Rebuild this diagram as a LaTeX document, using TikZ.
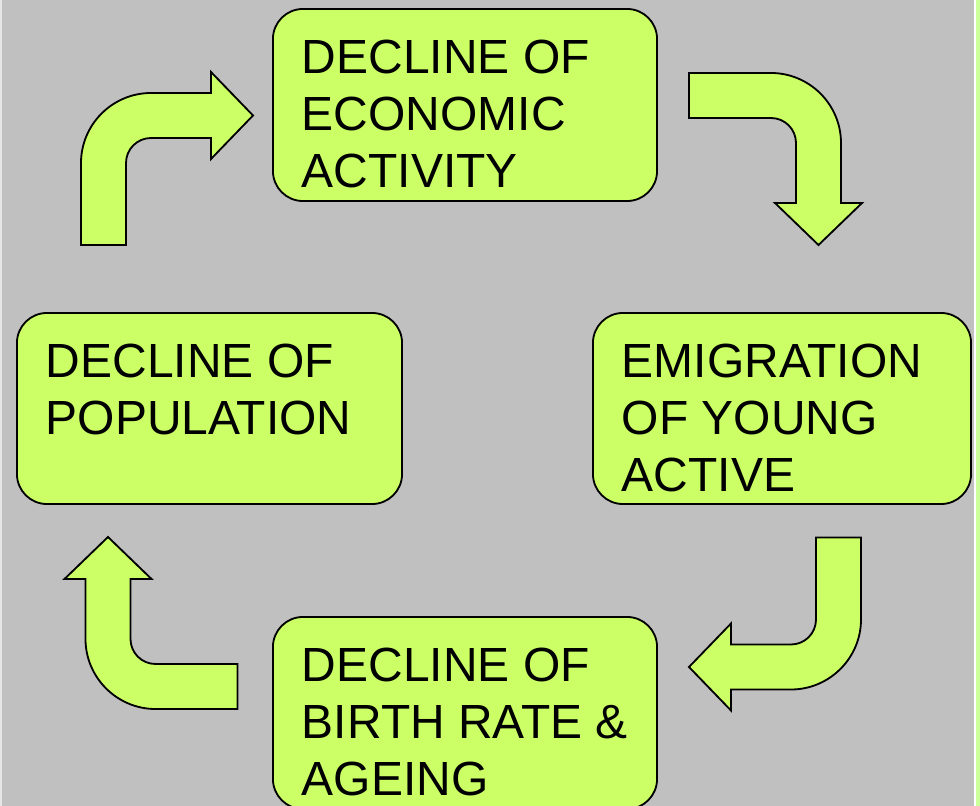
\documentclass[tikz,border=0pt]{standalone}
\usepackage{fontspec}
\setmainfont{Liberation Sans}
\usepackage{tikz}
\usetikzlibrary{positioning}
\definecolor{bggray}{HTML}{C0C0C0}
\definecolor{boxgreen}{HTML}{CCFF66}
\definecolor{stripgreen}{HTML}{CCFF99}

\begin{document}
\begin{tikzpicture}[x=0.025cm,y=-0.025cm,
  box/.style={draw,line width=1.3pt,fill=boxgreen,rounded corners=0.75cm,inner sep=0pt,minimum width=9.6cm,minimum height=4.8cm},
  txt/.style={align=left,inner sep=0pt,anchor=base west,font=\fontsize{34.1}{40.5}\selectfont},
  bentarrow/.style={draw,line width=1.3pt,fill=boxgreen,line join=miter}]
\useasboundingbox (0,0) rectangle (980,806);
\clip (0,0) rectangle (980,806);
\fill[bggray] (0,0) rectangle (980,806);
\fill[black!10] (0,0) rectangle (2,806);
\fill[white] (974,0) rectangle (975.5,806);
\fill[stripgreen] (975.5,0) rectangle (980,806);
% the four stages (text is anchored at its last baseline)
\node[box] (econ) at (465,105) {};
\node[box,minimum width=9.45cm,minimum height=4.775cm] (emig) at (782,408.5) {};
\node[box] (birth) at (465,713) {};
\node[box,minimum width=9.625cm,minimum height=4.775cm] (popul) at (209.5,408.5) {};
\node[txt] (econtxt) at ([xshift=0.74cm,yshift=-4.475cm]econ.north west) {DECLINE OF\\ECONOMIC\\ACTIVITY};
\node[txt] (emigtxt) at ([xshift=0.74cm,yshift=-4.475cm]emig.north west) {EMIGRATION\\OF YOUNG\\ACTIVE};
\node[txt] (birthtxt) at ([xshift=0.74cm,yshift=-4.475cm]birth.north west) {DECLINE OF\\BIRTH RATE \&\\AGEING};
\node[txt] (popultxt) at ([xshift=0.74cm,yshift=-3.05cm]popul.north west) {DECLINE OF\\POPULATION};
% bent block arrows round the cycle
\foreach \cx/\cy/\ang in {167/159/0,775/159/-90,775/623.5/180,151.5/623/90}
  \draw[bentarrow,shift={(\cx,\cy)},rotate=\ang] (-86,86) -- (-86,4)
    .. controls (-86,-34.5) and (-54.5,-66) .. (-16,-66) -- (44,-66) -- (44,-87)
    -- (86,-43.5) -- (44,0) -- (44,-21) -- (-16,-21)
    .. controls (-29.8,-21) and (-41,-9.8) .. (-41,4) -- (-41,86) -- cycle;
\end{tikzpicture}
\end{document}
